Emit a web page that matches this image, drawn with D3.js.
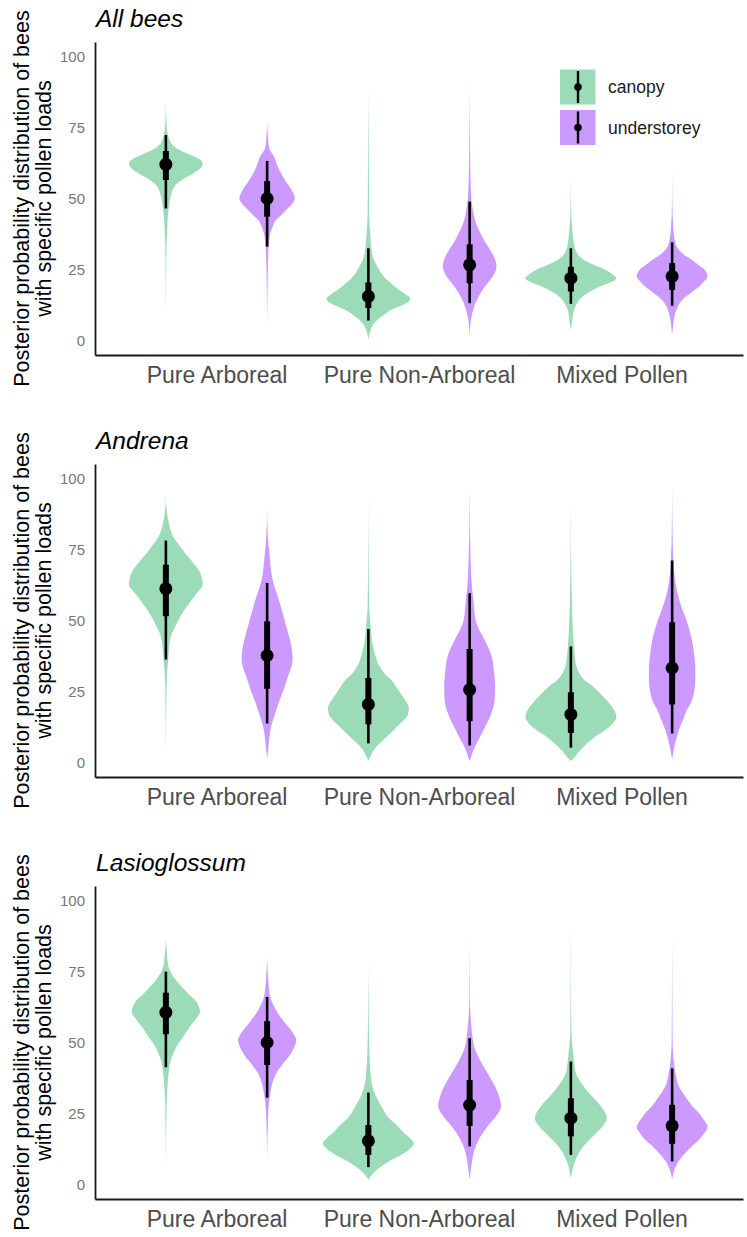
<!DOCTYPE html>
<html>
<head>
<meta charset="utf-8">
<script src="https://cdn.jsdelivr.net/npm/d3@7"></script>
<style>
  body { margin: 0; background: #fff; }
  svg { display: block; font-family: "Liberation Sans", Arial, sans-serif; }
</style>
</head>
<body>
<svg id="chart" width="747" height="1237"></svg>
<script>
// ---- data ----
const panelTitles = ["All bees", "Andrena", "Lasioglossum"];
const categories = ["Pure Arboreal", "Pure Non-Arboreal", "Mixed Pollen"];
const strata = ["canopy", "understorey"];
const yTicks = [0, 25, 50, 75, 100];

// one row per panel, order: PA canopy, PA understorey, PNA canopy, PNA understorey, MP canopy, MP understorey
const medians = [
  [62, 50, 15.6, 26.7, 22, 22.6],
  [61.2, 37.7, 20.5, 25.7, 17, 33.3],
  [60.6, 50, 15.4, 28, 23.4, 20.7]
];
const inner66 = [
  [[56.5, 66.7], [43.6, 56.1], [11.5, 20.5], [20.2, 33.9], [17.3, 26], [17.9, 27.3]],
  [[51.5, 69.6], [26, 49.7], [13.5, 29.8], [14.6, 40], [10.5, 24.8], [20.5, 49.4]],
  [[52.9, 67.5], [42.1, 57.5], [10.5, 21], [20.7, 36.8], [17, 30.4], [14.4, 28.1]]
];
const outer95 = [
  [[46.5, 72.3], [33.1, 63.2], [7.1, 32.5], [13.2, 48.9], [13, 32.5], [12.3, 34.6]],
  [[36.3, 78.1], [13.8, 63.2], [6.8, 47], [6.1, 59.6], [5.3, 40.9], [10.3, 71.1]],
  [[41.3, 74.9], [30.6, 66], [6.2, 32.4], [13.5, 51.5], [10.5, 43.3], [8.2, 40.9]]
];

// posterior densities: [value, relative density]
const allBeesDensity = [
  [[84,0],[76,.015],[71,.07],[68,.2],[66,.44],[64.5,.66],[62.5,.81],[60.5,.75],[58.5,.57],[56.5,.35],[54.5,.2],[51,.11],[47,.065],[40,.03],[30,.01],[7,0]],
  [[77,0],[68,.04],[64.5,.16],[61,.24],[58.8,.31],[56,.41],[54,.5],[52,.57],[50,.61],[48,.54],[46,.42],[44,.3],[42.5,.2],[40,.12],[37.8,.07],[30.8,.025],[20,.01],[5,0]],
  [[88.7,0],[60,.01],[45,.015],[37.8,.04],[30,.09],[26,.2],[22,.37],[20,.51],[18,.66],[16.7,.79],[14.7,.92],[12.8,.79],[10.9,.51],[9,.33],[7.4,.2],[5.5,.1],[3.9,.05],[0.4,0]],
  [[93,0],[75,.005],[61,.015],[52,.03],[47,.06],[43.6,.1],[40.5,.16],[37.8,.24],[35,.33],[32,.45],[29,.55],[26,.59],[23.5,.54],[21.4,.45],[19,.33],[16.7,.24],[14,.15],[12,.1],[7.4,.03],[1.5,0]],
  [[57.7,0],[45,.01],[37.8,.04],[32,.1],[28.4,.29],[26.5,.53],[24.9,.77],[23.3,.92],[22,1],[20.5,.86],[19,.62],[17.3,.42],[15.6,.26],[13,.13],[10.9,.07],[7,.03],[3.5,0]],
  [[61.8,0],[48,.005],[40,.025],[36,.05],[33,.1],[30.5,.24],[28.4,.44],[26.5,.59],[24.9,.72],[22.6,.78],[20.8,.7],[19,.59],[17,.42],[14.3,.22],[11.5,.11],[8.5,.05],[5,.02],[2.1,0]]
];
const andrenaDensity = [
  [[93,0],[85.4,.05],[79.5,.16],[76.5,.29],[73.7,.42],[70.5,.59],[67.8,.72],[65,.79],[62.6,.81],[60,.7],[57.3,.57],[54,.42],[50.3,.28],[47,.18],[44.4,.11],[36.3,.05],[27,.015],[3.5,0]],
  [[89.5,0],[80,.015],[73.7,.05],[64.3,.12],[56.1,.28],[48,.42],[43.3,.5],[39,.55],[36.3,.56],[33,.52],[30.4,.46],[26,.37],[22.2,.28],[17,.17],[12.9,.09],[9,.05],[5.8,.03],[1.2,0]],
  [[96.5,0],[75,.005],[56,.015],[48,.05],[42,.09],[38,.15],[34,.24],[31.5,.35],[29.2,.5],[26,.64],[23.4,.75],[21,.85],[19.3,.89],[17,.87],[15.2,.79],[12.5,.62],[9.4,.42],[7,.26],[4.7,.13],[2.5,.05],[0.6,0]],
  [[98.8,0],[80,.01],[70,.025],[62,.05],[56,.09],[50.3,.13],[47,.2],[44.4,.29],[41.5,.38],[38.6,.46],[35.5,.51],[32.7,.53],[27,.56],[22,.55],[18.5,.5],[15.2,.42],[12,.32],[9.4,.24],[7,.16],[4.7,.09],[2.5,.04],[0.6,0]],
  [[94.7,0],[75,.005],[62,.015],[48,.04],[38.6,.08],[34,.12],[31.6,.18],[29,.3],[26.9,.48],[24.5,.63],[22.2,.77],[19.5,.91],[17,.99],[16,1],[14,.93],[11.7,.77],[9,.52],[6.4,.33],[4.3,.2],[2.3,.1],[0.6,0]],
  [[98.2,0],[80,.01],[72,.025],[66,.05],[60,.11],[55,.2],[50.3,.31],[44.4,.42],[38.6,.48],[33,.51],[29.2,.51],[24.6,.48],[21,.41],[18.7,.33],[15.5,.25],[12.9,.18],[10,.12],[7,.07],[4,.03],[1.2,0]]
];
const lasioglossumDensity = [
  [[86,0],[80,.03],[76.5,.06],[74.3,.12],[72,.22],[69.6,.35],[67,.5],[64.9,.64],[62.8,.72],[60.8,.75],[58.3,.66],[55.6,.53],[52.5,.4],[49.7,.28],[46.5,.17],[43.9,.11],[40,.065],[36.8,.045],[27.5,.015],[6.4,0]],
  [[80,0],[72,.025],[66,.07],[62.8,.15],[60.2,.24],[58,.34],[55.6,.46],[53,.58],[50.9,.64],[48.5,.6],[45.6,.5],[42.5,.35],[39.2,.2],[36,.12],[32.2,.07],[24,.02],[8.2,0]],
  [[79,0],[65,.005],[50.9,.015],[40,.045],[34,.1],[30,.2],[27,.31],[24,.42],[21,.62],[18.1,.79],[16.3,.92],[14.6,1],[12.5,.9],[10.5,.72],[8.5,.48],[6.4,.28],[4.5,.13],[3,.05],[1.8,0]],
  [[89.5,0],[70,.005],[62.6,.01],[55.6,.04],[51,.07],[48.5,.1],[45,.19],[41.5,.31],[38,.44],[34.5,.56],[31,.65],[27.5,.69],[24.5,.6],[21.6,.45],[18.5,.3],[15.8,.2],[12.5,.11],[9.9,.07],[5,.025],[1.8,0]],
  [[92.4,0],[70,.005],[55.6,.01],[46.2,.05],[42,.08],[39.2,.11],[35.5,.24],[32.2,.4],[29.5,.56],[27.5,.66],[25.5,.75],[23.4,.79],[21,.72],[18.1,.55],[15,.36],[12.3,.22],[9,.11],[6.4,.05],[4,.02],[2.3,0]],
  [[88.9,0],[65,.005],[50.9,.01],[41.5,.05],[38,.09],[34.5,.15],[31,.29],[27.5,.45],[25,.6],[22.8,.7],[20.2,.78],[18,.7],[15.8,.59],[13,.4],[9.9,.22],[7.5,.11],[5.3,.05],[3.5,.02],[1.8,0]]
];
const densities = [allBeesDensity, andrenaDensity, lasioglossumDensity];

// ---- layout ----
const svg = d3.select("#chart");
const left = 95, right = 743;
const panelTop = 42, panelBottom = 355, panelStep = 422;
const dodge = 0.25;

const colour = d3.scaleOrdinal().domain(strata).range(["#9bdbb7", "#cc99ff"]);
const x = d3.scaleLinear().domain([-0.6, 2.6]).range([left, right]);

panelTitles.forEach((title, p) => {
  const top = panelTop + p * panelStep;
  const bottom = panelBottom + p * panelStep;
  const y = d3.scaleLinear().domain([-5, 105]).range([bottom, top]);
  const maxDens = d3.max(densities[p], v => d3.max(v, d => d[1]));
  const halfWidth = d3.scaleLinear().domain([0, maxDens]).range([0, 45.5]);

  const g = svg.append("g").attr("class", "panel");

  // violins
  densities[p].forEach((dens, k) => {
    const cat = Math.floor(k / 2), s = k % 2;
    const cx = x(cat + (s === 0 ? -dodge : dodge));
    const pts = dens.slice().sort((a, b) => b[0] - a[0]);
    const area = d3.area()
      .curve(d3.curveMonotoneY)
      .y(d => y(d[0]))
      .x0(d => cx - halfWidth(d[1]))
      .x1(d => cx + halfWidth(d[1]));
    g.append("path")
      .attr("d", area(pts))
      .attr("fill", colour(strata[s]));

    // point + intervals
    g.append("line")
      .attr("x1", cx).attr("x2", cx)
      .attr("y1", y(outer95[p][k][0])).attr("y2", y(outer95[p][k][1]))
      .attr("stroke", "#000").attr("stroke-width", 2.6);
    g.append("line")
      .attr("x1", cx).attr("x2", cx)
      .attr("y1", y(inner66[p][k][0])).attr("y2", y(inner66[p][k][1]))
      .attr("stroke", "#000").attr("stroke-width", 6);
    g.append("circle")
      .attr("cx", cx).attr("cy", y(medians[p][k]))
      .attr("r", 6.5).attr("fill", "#000");
  });

  // axes
  const yAxis = g.append("g")
    .attr("transform", `translate(${left},0)`)
    .call(d3.axisLeft(y).tickValues(yTicks).tickSize(0).tickPadding(10).tickSizeOuter(0));
  yAxis.selectAll("text").attr("font-size", 15).attr("fill", "#777")
    .attr("font-family", "Liberation Sans, Arial, sans-serif");

  const xAxis = g.append("g")
    .attr("transform", `translate(0,${bottom})`)
    .call(d3.axisBottom(x).tickValues([0, 1, 2]).tickFormat(i => categories[i]).tickSize(0).tickSizeOuter(0).tickPadding(12));
  xAxis.selectAll("text").attr("font-size", 23).attr("fill", "#4d4d4d")
    .attr("font-family", "Liberation Sans, Arial, sans-serif");

  [yAxis, xAxis].forEach(a => a.select(".domain").attr("stroke", "#1a1a1a").attr("stroke-width", 1.8));

  // title
  g.append("text")
    .attr("x", left + 1).attr("y", top - 15)
    .attr("font-size", 24.5).attr("font-style", "italic").attr("fill", "#000")
    .text(title);

  // y axis title
  const cy = (top + bottom) / 2;
  const yt = g.append("text")
    .attr("transform", `translate(0,${cy}) rotate(-90)`)
    .attr("text-anchor", "middle").attr("font-size", 21.5).attr("fill", "#000");
  yt.append("tspan").attr("x", 0).attr("y", 29).text("Posterior probability distribution of bees");
  yt.append("tspan").attr("x", 0).attr("y", 51).text("with specific pollen loads");
});

// legend (first panel only)
const legend = svg.append("g").attr("class", "legend");
strata.forEach((s, i) => {
  const ky = 69.5 + i * 40.5;
  const key = legend.append("g").attr("transform", `translate(560,${ky})`);
  key.append("rect").attr("width", 35.5).attr("height", 35).attr("fill", colour(s));
  key.append("line").attr("x1", 18).attr("x2", 18).attr("y1", 1.5).attr("y2", 33.5)
    .attr("stroke", "#000").attr("stroke-width", 2.4);
  key.append("circle").attr("cx", 18).attr("cy", 17.5).attr("r", 3.8).attr("fill", "#000");
  legend.append("text")
    .attr("x", 608).attr("y", ky + 17.5).attr("dy", "0.35em")
    .attr("font-size", 17.5).attr("fill", "#1a1a1a")
    .text(s);
});
</script>
</body>
</html>
